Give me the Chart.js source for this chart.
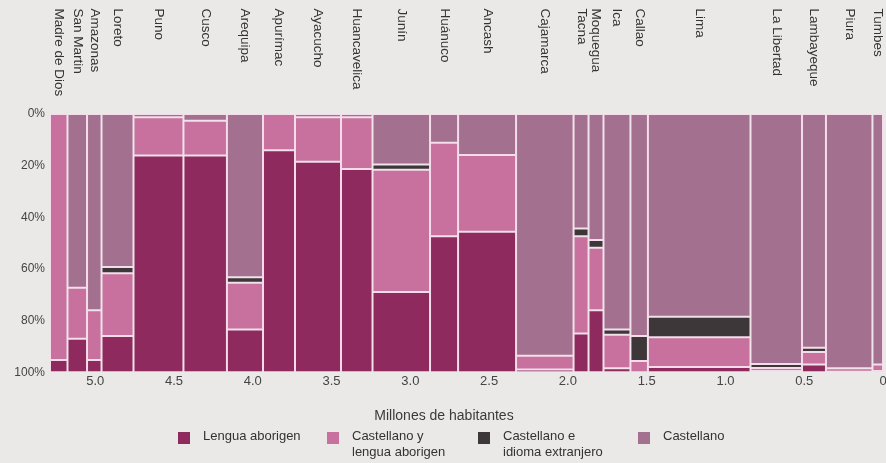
<!DOCTYPE html>
<html>
<head>
<meta charset="utf-8">
<script src="https://cdn.jsdelivr.net/npm/chart.js@4.4.1/dist/chart.umd.min.js"></script>
<style>
  html, body { margin: 0; padding: 0; background: #ebe8e8; }
  #marco { position: relative; width: 886px; height: 463px; }
  #leyenda { position: absolute; top: 428px; left: 0; font: 13px 'Liberation Sans', Arial, sans-serif; color: #333; }
  #leyenda .item { position: absolute; top: 0; display: flex; align-items: flex-start; }
  #leyenda .caja { width: 12px; height: 12px; margin-top: 3.5px; margin-right: 13px; }
  #leyenda .texto { line-height: 16px; white-space: nowrap; }
</style>
</head>
<body>
<div id="marco">
  <canvas id="grafico" width="886" height="463"></canvas>
  <div id="leyenda"></div>
</div>
<script>
// Departments, left to right
const departamentos = ['Madre de Dios', 'San Martin', 'Amazonas', 'Loreto', 'Puno', 'Cusco', 'Arequipa',
  'Apurímac', 'Ayacucho', 'Huancavelica', 'Junín', 'Huánuco', 'Ancash', 'Cajamarca', 'Tacna', 'Moquegua',
  'Ica', 'Callao', 'Lima', 'La Libertad', 'Lambayeque', 'Piura', 'Tumbes'];

// Column widths, in millones de habitantes (bottom axis)
const anchos = [0.111, 0.124, 0.092, 0.203, 0.317, 0.276, 0.229, 0.203, 0.292, 0.200, 0.365, 0.178,
  0.368, 0.365, 0.095, 0.095, 0.171, 0.111, 0.651, 0.327, 0.152, 0.295, 0.067];

// Share of each language group (%), top to bottom of each column
const castellano = [0, 67.3, 76, 59.3, 1.3, 2.6, 63.2, 0, 1.3, 1.3, 19.6, 11.1,
  15.9, 93.6, 44.3, 48.8, 83.5, 86, 78.5, 96.8, 90.5, 98.5, 97];
const castellanoExtranjero = [0, 0, 0, 2.4, 0, 0, 2.2, 0, 0, 0, 2, 0,
  0, 0, 3, 3, 2, 9.7, 8, 1.6, 1.7, 0, 0];
const castellanoAborigen = [95.3, 19.7, 19.3, 24.3, 14.8, 13.5, 18.1, 14, 17.2, 20, 47.3, 36.2,
  29.7, 5.4, 37.7, 24.2, 13, 4.3, 11.5, 1.1, 4.8, 1.3, 2.5];
const lenguaAborigen = [4.7, 13, 4.7, 14, 83.9, 83.9, 16.5, 86, 81.5, 78.7, 31.1, 52.7,
  54.4, 1, 15, 24, 1.5, 0, 2, 0.5, 3, 0.2, 0.5];

const ticksX = [0, 0.5, 1, 1.5, 2, 2.5, 3, 3.5, 4, 4.5, 5];

const FUENTE = "'Liberation Sans', Arial, sans-serif";
const COLOR_CASTELLANO = '#a4708f';
const COLOR_EXTRANJERO = '#3d3739';
const COLOR_BILINGUE = '#c8709e';
const COLOR_ABORIGEN = '#8e2a5e';

// Legend entries (bottom), in the order of the picture
const leyenda = [
  { lineas: ['Lengua aborigen'], color: COLOR_ABORIGEN },
  { lineas: ['Castellano y', 'lengua aborigen'], color: COLOR_BILINGUE },
  { lineas: ['Castellano e', 'idioma extranjero'], color: COLOR_EXTRANJERO },
  { lineas: ['Castellano'], color: COLOR_CASTELLANO }
];
const leyendaX = [178, 327, 478, 638];

// The axis runs from the total (left) down to 0 (right)
const xMax = anchos.reduce((a, b) => a + b, 0);
const centros = [];
let borde = xMax;
anchos.forEach(w => { centros.push(borde - w / 2); borde -= w; });

// Bars are drawn with grouped:false, so their width is ruler.min * barPercentage.
// A pair of empty bars PASO_REF apart makes ruler.min the pixel size of PASO_REF.
const PASO_REF = 0.01;

const datasets = departamentos.map((nombre, i) => {
  const partes = [castellano[i], castellanoExtranjero[i], castellanoAborigen[i], lenguaAborigen[i]];
  let base = 0;
  const data = partes.map(p => {
    const seg = { x: centros[i], y: [base, base + p] };
    base += p;
    return seg;
  });
  return {
    label: nombre,
    data: data,
    backgroundColor: [COLOR_CASTELLANO, COLOR_EXTRANJERO, COLOR_BILINGUE, COLOR_ABORIGEN],
    borderColor: '#f5dceb',
    borderWidth: 1,
    borderSkipped: false,
    grouped: false,
    categoryPercentage: 1,
    barPercentage: anchos[i] / PASO_REF
  };
});
datasets.push({
  label: 'ref',
  data: [{ x: 0, y: [0, 0] }, { x: PASO_REF, y: [0, 0] }],
  backgroundColor: 'rgba(0,0,0,0)',
  borderWidth: 0,
  grouped: false
});

// no side padding from the tick labels: the chart area is fixed by layout.padding
const sinRelleno = s => { s.paddingLeft = 0; s.paddingRight = 0; s.paddingTop = 0; s.paddingBottom = 0; };
const sinRejilla = { display: false, drawTicks: false };

new Chart(document.getElementById('grafico'), {
  type: 'bar',
  data: { datasets: datasets },
  options: {
    responsive: false,
    animation: false,
    events: [],
    layout: { autoPadding: false, padding: { left: 5, right: 3, top: 4, bottom: 38 } },
    plugins: {
      legend: { display: false },
      tooltip: { enabled: false },
      title: {
        display: true,
        position: 'bottom',
        weight: 500,
        text: 'Millones de habitantes',
        color: '#3a3a3a',
        font: { family: FUENTE, size: 14, weight: 'normal' },
        padding: { top: 18, bottom: 0 }
      }
    },
    scales: {
      x: {
        type: 'linear',
        position: 'bottom',
        reverse: true,
        offset: false,
        min: 0,
        max: xMax,
        grid: sinRejilla,
        border: { display: false },
        afterBuildTicks: s => { s.ticks = ticksX.map(v => ({ value: v })); },
        afterFit: s => { s.height = 18; sinRelleno(s); },
        ticks: {
          autoSkip: false,
          maxRotation: 0,
          padding: 1,
          color: '#444',
          font: { family: FUENTE, size: 13 },
          callback: v => (v === 0 ? '0' : v.toFixed(1))
        }
      },
      xDep: {
        type: 'linear',
        position: 'top',
        reverse: true,
        offset: false,
        min: 0,
        max: xMax,
        grid: sinRejilla,
        border: { display: false },
        afterBuildTicks: s => { s.ticks = centros.map(c => ({ value: c })); },
        afterFit: s => { s.height = 110; sinRelleno(s); },
        ticks: {
          autoSkip: false,
          minRotation: -90,
          maxRotation: -90,
          padding: 105.5,
          labelOffset: -16,
          color: '#333',
          font: { family: FUENTE, size: 13.5 },
          callback: (v, i) => departamentos[i]
        }
      },
      y: {
        type: 'linear',
        reverse: true,
        min: 0,
        max: 100,
        grid: sinRejilla,
        border: { display: false },
        afterFit: s => { s.width = 45; sinRelleno(s); },
        ticks: {
          stepSize: 20,
          padding: 5,
          color: '#444',
          font: { family: FUENTE, size: 12 },
          callback: v => v + '%'
        }
      }
    }
  }
});

// Legend as HTML under the plot
const caja = document.getElementById('leyenda');
leyenda.forEach((item, k) => {
  const div = document.createElement('div');
  div.className = 'item';
  div.style.left = leyendaX[k] + 'px';
  const c = document.createElement('div');
  c.className = 'caja';
  c.style.background = item.color;
  const t = document.createElement('div');
  t.className = 'texto';
  t.innerHTML = item.lineas.join('<br>');
  div.appendChild(c);
  div.appendChild(t);
  caja.appendChild(div);
});
</script>
</body>
</html>
